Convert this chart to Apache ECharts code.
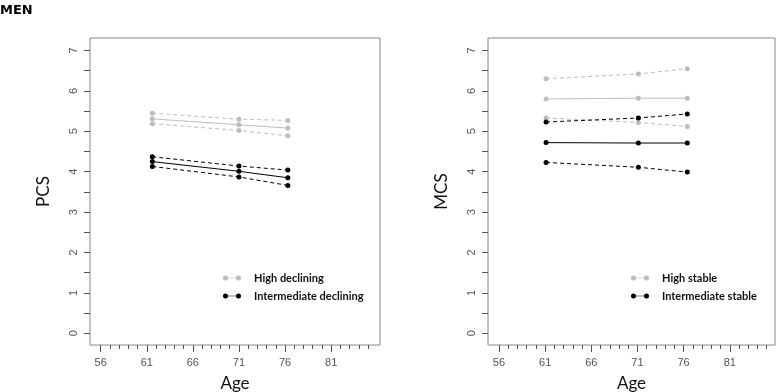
<!DOCTYPE html>
<html>
<head>
    <meta charset="utf-8">
    <title>MEN PCS / MCS</title>
    <script src="https://cdn.jsdelivr.net/npm/echarts@6/dist/echarts.min.js"></script>
</head>
<body style="margin:0;background:#fff;">
    <div id="main" style="width:778px;height:392px;"></div>
    <script type="text/javascript">
        // ages of the three waves
        var agesPcs = [61.6, 71.0, 76.3];
        var agesMcs = [61.1, 71.1, 76.4];

        // PCS panel
        var pcsHigh      = [5.31, 5.16, 5.08];
        var pcsHighUp    = [5.45, 5.30, 5.27];
        var pcsHighLow   = [5.19, 5.02, 4.89];
        var pcsInter     = [4.25, 4.01, 3.85];
        var pcsInterUp   = [4.37, 4.14, 4.04];
        var pcsInterLow  = [4.13, 3.87, 3.66];

        // MCS panel
        var mcsHigh      = [5.80, 5.82, 5.82];
        var mcsHighUp    = [6.30, 6.42, 6.55];
        var mcsHighLow   = [5.33, 5.22, 5.12];
        var mcsInter     = [4.72, 4.71, 4.71];
        var mcsInterUp   = [5.23, 5.33, 5.43];
        var mcsInterLow  = [4.23, 4.11, 3.99];

        // axis ticks
        var yLabels = [0, 1, 2, 3, 4, 5, 6, 7];
        var yTicks = [0, 0.5, 1, 1.5, 2, 2.5, 3, 3.5, 4, 4.5, 5, 5.5, 6, 6.5, 7];
        var xMajor = [56, 61, 66, 71, 76, 81];
        var xMinor = [];
        for (var a = 56; a <= 85; a++) xMinor.push(a);

        var GREY = '#bdbdbd';
        var BLACK = '#000';
        var legendIcon = 'path://M0,3.5a3.5,3.5 0 1,0 7,0a3.5,3.5 0 1,0 -7,0M7,3L18,3L18,4L7,4ZM18,3.5a3.5,3.5 0 1,0 7,0a3.5,3.5 0 1,0 -7,0Z';

        function pairs(xs, ys) {
            return xs.map(function (x, i) { return [x, ys[i]]; });
        }

        function line(name, grid, xs, ys, color, dashed) {
            return {
                name: name, type: 'line',
                xAxisIndex: grid * 2, yAxisIndex: grid,
                data: pairs(xs, ys),
                symbol: 'circle', symbolSize: 5,
                itemStyle: { color: color },
                lineStyle: { color: color, width: 1, type: dashed ? [4, 3] : 'solid' },
                emphasis: { disabled: true },
                silent: true
            };
        }

        var tickText = { color: '#555', fontSize: 11, fontFamily: 'Liberation Sans, Arial, sans-serif' };

        // two x axes per panel: yearly minor ticks, and longer labelled ticks every 5 years
        function xAxes(grid, min, max) {
            return [{
                gridIndex: grid, type: 'value', min: min, max: max,
                position: 'bottom',
                name: 'Age', nameLocation: 'middle', nameGap: 30,
                nameTextStyle: { fontSize: 17, color: '#111', fontFamily: 'Lato, sans-serif' },
                axisLine: { show: false, onZero: false },
                axisTick: { show: true, length: 4, lineStyle: { color: '#555' }, customValues: xMinor },
                axisLabel: { show: false },
                splitLine: { show: false }
            }, {
                gridIndex: grid, type: 'value', min: min, max: max,
                position: 'bottom', offset: 0,
                axisLine: { show: false, onZero: false },
                axisTick: { show: true, length: 7, lineStyle: { color: '#555' }, customValues: xMajor },
                axisLabel: Object.assign({ margin: 12, customValues: xMajor }, tickText),
                splitLine: { show: false }
            }];
        }

        function yAxis(grid, name) {
            return {
                gridIndex: grid, type: 'value', min: -0.29, max: 7.31,
                name: name, nameLocation: 'middle', nameGap: 38,
                nameTextStyle: { fontSize: 17, color: '#111', fontFamily: 'Lato, sans-serif' },
                axisLine: { show: false, onZero: false },
                axisTick: { show: true, length: 6, lineStyle: { color: '#555' }, customValues: yTicks },
                axisLabel: Object.assign({ rotate: 90, margin: 11, customValues: yLabels }, tickText),
                splitLine: { show: false }
            };
        }

        var legendText = { fontSize: 11, color: '#111', fontFamily: 'Lato, sans-serif', fontWeight: 'bold', lineHeight: 14, padding: [0, 0, 0, 8] };

        var myChart = echarts.init(document.getElementById('main'));

        var option = {
            animation: false,
            backgroundColor: '#fff',
            title: {
                text: 'MEN', left: 0, top: 4, padding: 0,
                textStyle: { fontSize: 13, fontWeight: 'bold', color: '#000', fontFamily: 'DejaVu Sans, sans-serif' }
            },
            grid: [
                { left: 90, top: 38, width: 290, height: 307, outerBoundsMode: 'none', show: true, borderColor: '#888', borderWidth: 1 },
                { left: 488, top: 38, width: 287, height: 307, outerBoundsMode: 'none', show: true, borderColor: '#888', borderWidth: 1 }
            ],
            xAxis: xAxes(0, 54.84, 86.3).concat(xAxes(1, 54.81, 85.9)),
            yAxis: [yAxis(0, 'PCS'), yAxis(1, 'MCS')],
            legend: [{
                orient: 'vertical', left: 218, top: 266,
                itemWidth: 18, itemHeight: 6, itemGap: 4,
                icon: legendIcon,
                data: ['High declining', 'Intermediate declining'],
                textStyle: legendText,
                selectedMode: false
            }, {
                orient: 'vertical', left: 626, top: 266,
                itemWidth: 18, itemHeight: 6, itemGap: 4,
                icon: legendIcon,
                data: ['High stable', 'Intermediate stable'],
                textStyle: legendText,
                selectedMode: false
            }],
            series: [
                line('High declining', 0, agesPcs, pcsHigh, GREY, false),
                line('High declining upper', 0, agesPcs, pcsHighUp, GREY, true),
                line('High declining lower', 0, agesPcs, pcsHighLow, GREY, true),
                line('Intermediate declining', 0, agesPcs, pcsInter, BLACK, false),
                line('Intermediate declining upper', 0, agesPcs, pcsInterUp, BLACK, true),
                line('Intermediate declining lower', 0, agesPcs, pcsInterLow, BLACK, true),

                line('High stable', 1, agesMcs, mcsHigh, GREY, false),
                line('High stable upper', 1, agesMcs, mcsHighUp, GREY, true),
                line('High stable lower', 1, agesMcs, mcsHighLow, GREY, true),
                line('Intermediate stable', 1, agesMcs, mcsInter, BLACK, false),
                line('Intermediate stable upper', 1, agesMcs, mcsInterUp, BLACK, true),
                line('Intermediate stable lower', 1, agesMcs, mcsInterLow, BLACK, true)
            ]
        };

        myChart.setOption(option);
    </script>
</body>
</html>
